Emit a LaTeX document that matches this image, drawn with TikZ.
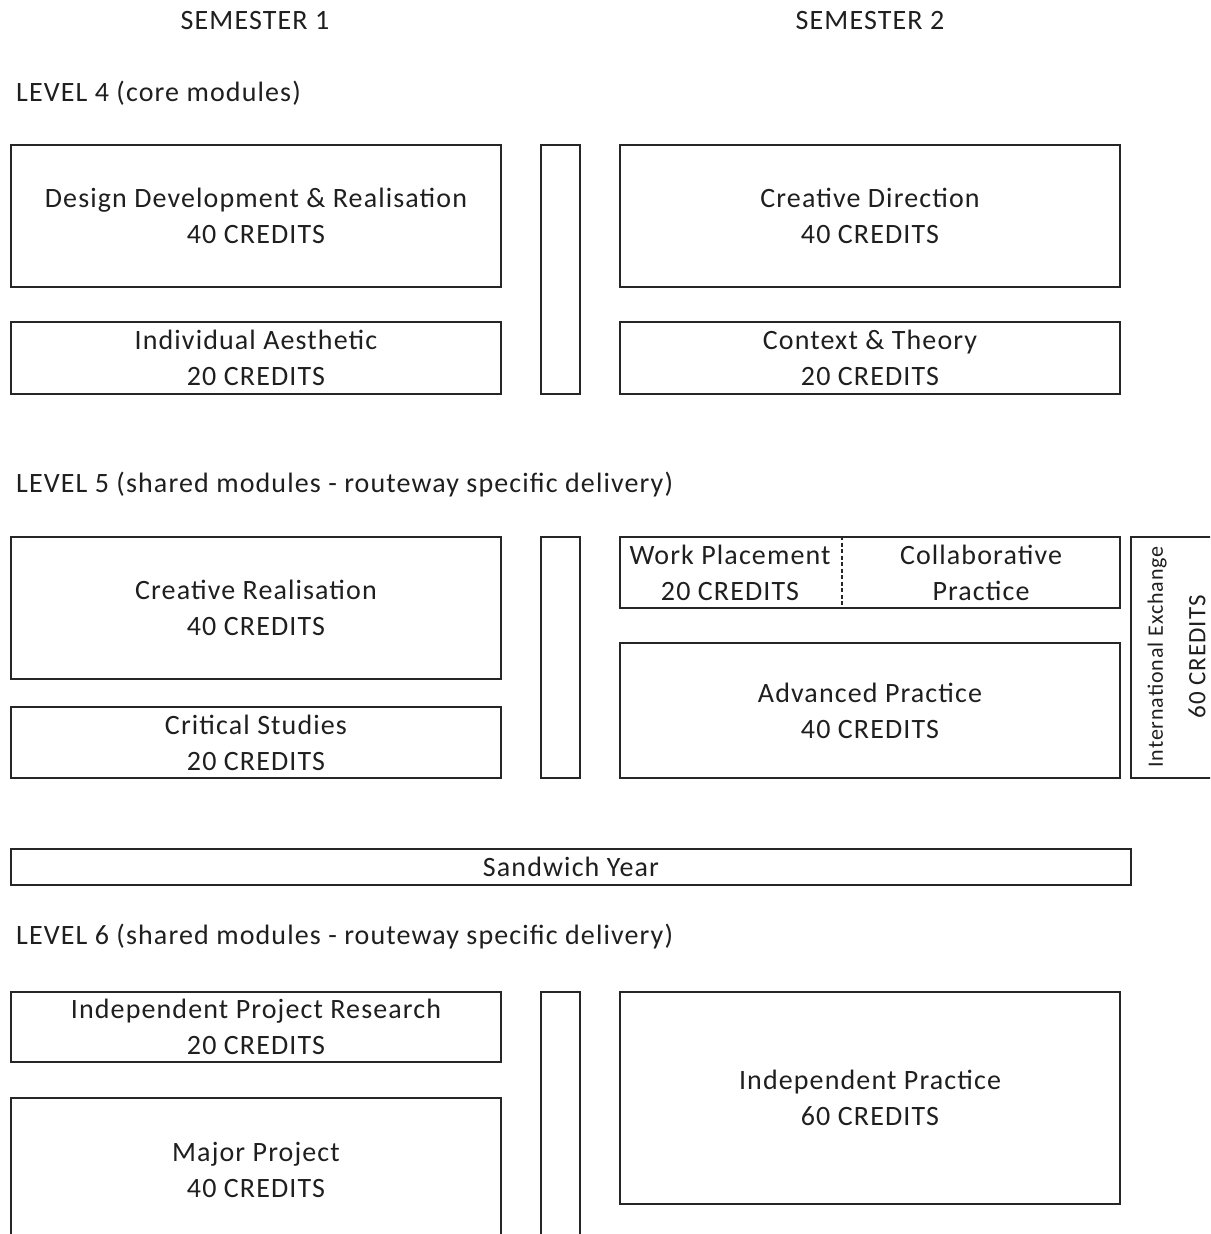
\documentclass[tikz,border=0pt]{standalone}
\usepackage{fontspec}
\setmainfont{Carlito}[LetterSpace=4]
\usepackage{tikz}

\newcommand{\modfont}{\fontsize{28}{36}\selectfont}
\newcommand{\sidefont}{\fontsize{22}{26}\selectfont}

\tikzset{
  module/.style={draw=black!85, line width=2pt, anchor=north west, inner sep=0pt,
    align=center, font=\modfont, text=black!88},
  bar/.style={draw=black!85, line width=2pt, anchor=north west, inner sep=0pt,
    minimum width=39pt},
  caption/.style={anchor=center, align=center, font=\modfont, text=black!88, inner sep=0pt},
  heading/.style={anchor=west, font=\modfont, text=black!88, inner sep=0pt},
  divider/.style={draw=black!85, line width=1.6pt, dash pattern=on 4pt off 2.5pt}
}

\begin{document}
\begin{tikzpicture}[x=1pt,y=-1pt]
\useasboundingbox[fill=white] (0,0) rectangle (1210,1234);
\clip (0,0) rectangle (1210,1234);

% semesters
\node[caption] (semone) at (255,21) {SEMESTER 1};
\node[caption] (semtwo) at (870,21) {SEMESTER 2};

% level 4
\node[heading] (lvlfour) at (16,93) {LEVEL 4 (core modules)};
\node[module, minimum width=490pt, minimum height=142pt] (ddr) at (10,144) {Design Development \& Realisation\\40 CREDITS};
\node[module, minimum width=490pt, minimum height=72pt] (indaes) at (10,321) {Individual Aesthetic\\20 CREDITS};
\node[bar, minimum height=249pt] (barfour) at (540,144) {};
\node[module, minimum width=500pt, minimum height=142pt] (credir) at (619,144) {Creative Direction\\40 CREDITS};
\node[module, minimum width=500pt, minimum height=72pt] (context) at (619,321) {Context \& Theory\\20 CREDITS};

% level 5
\node[heading] (lvlfive) at (16,485) {LEVEL 5 (shared modules - routeway specific delivery)};
\node[module, minimum width=490pt, minimum height=142pt] (creal) at (10,536) {Creative Realisation\\40 CREDITS};
\node[module, minimum width=490pt, minimum height=71pt] (crit) at (10,706) {Critical Studies\\20 CREDITS};
\node[bar, minimum height=241pt] (barfive) at (540,536) {};
\node[module, minimum width=500pt, minimum height=71pt] (placebox) at (619,536) {};
\coordinate (divtop) at (842,536);
\coordinate (divbot) at (842,607);
\draw[divider] (divtop) -- (divbot);
\node[caption] (work) at (730,573) {Work Placement\\20 CREDITS};
\node[caption] (collab) at (981,573) {Collaborative\\Practice};
\node[module, minimum width=500pt, minimum height=135pt] (advprac) at (619,642) {Advanced Practice\\40 CREDITS};
\node[module, minimum width=110pt, minimum height=241pt] (intex) at (1130,536) {};
\node[caption, rotate=90, font=\sidefont] (intexname) at (1157,657) {International Exchange};
\node[caption, rotate=90, font=\fontsize{25}{30}\selectfont] (intexcred) at (1197,657) {60 CREDITS};

% sandwich year
\node[module, minimum width=1120pt, minimum height=36pt] (sandwich) at (10,848) {Sandwich Year};

% level 6
\node[heading] (lvlsix) at (16,937) {LEVEL 6 (shared modules - routeway specific delivery)};
\node[module, minimum width=490pt, minimum height=70pt] (indres) at (10,991) {Independent Project Research\\20 CREDITS};
\node[module, minimum width=490pt, minimum height=143pt] (major) at (10,1097) {Major Project\\40 CREDITS};
\node[bar, minimum height=260pt] (barsix) at (540,991) {};
\node[module, minimum width=500pt, minimum height=212pt] (indprac) at (619,991) {Independent Practice\\60 CREDITS};
\end{tikzpicture}
\end{document}
